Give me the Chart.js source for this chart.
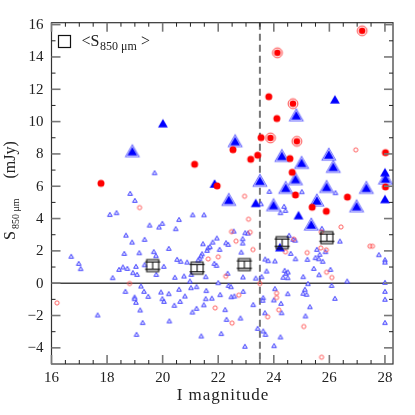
<!DOCTYPE html>
<html>
<head>
<meta charset="utf-8">
<script src="https://cdn.jsdelivr.net/npm/chart.js@4.4.1/dist/chart.umd.min.js"></script>
<style>
  html, body { margin: 0; padding: 0; background: #fff; overflow: hidden; }
  canvas { display: block; }
</style>
</head>
<body>
<canvas id="chart" width="415" height="415"></canvas>
<script>
// values: [I magnitude, S850 (mJy)]
const smallTriangles = [
  [16.71,1.63],[16.98,1.19],[17.05,0.87],[17.66,-2.0],[18.10,4.22],[18.34,4.33],[18.20,0.31],[18.43,0.82],
  [18.57,0.97],[18.62,1.81],[18.66,-0.54],[18.68,2.94],[18.73,0.88],[18.83,5.52],[18.90,2.51],[18.93,0.62],
  [18.99,-0.89],[18.99,-0.99],[19.00,5.09],[19.04,1.01],[19.04,-1.22],[19.06,-3.2],[19.08,0.51],[19.16,1.85],
  [19.19,-1.69],[19.22,-0.21],[19.28,-2.47],[19.33,-0.54],[19.35,2.68],[19.35,1.11],[19.48,-0.85],[19.53,3.56],
  [19.68,1.92],[19.71,6.80],[19.76,1.67],[19.77,0.51],[19.87,3.44],[19.94,-0.58],[19.99,3.67],[19.99,-0.99],
  [20.04,1.01],[20.05,-1.16],[20.22,2.12],[20.22,-0.68],[20.24,-2.37],
  [20.42,-1.40],[20.44,0.33],[20.47,3.34],[20.52,1.44],[20.59,3.91],[20.59,-0.41],[20.63,-1.16],[20.65,1.32],
  [20.77,0.41],[20.80,-0.83],[20.88,1.27],[20.98,0.10],[21.02,-0.31],[21.03,0.51],[21.07,-1.82],[21.08,4.20],
  [21.22,-1.59],[21.22,-0.25],[21.42,1.79],[21.38,1.65],[21.33,1.50],[21.28,1.40],[21.39,-3.30],[21.45,2.41],
  [21.48,-1.37],[21.49,4.20],[21.55,-0.99],[21.55,0.37],[21.57,-0.49],[21.60,2.00],[21.64,2.16],[21.70,2.23],
  [21.77,-0.96],[21.80,2.51],[21.86,1.19],[21.94,1.07],[21.95,2.76],[22.00,0.0],[22.05,2.06],[22.07,-0.74],
  [22.11,-3.15],[22.25,-1.67],[22.28,2.47],[22.30,-2.27],[22.34,0.58],[22.36,2.37],[22.37,-0.17],[22.46,-0.25],
  [22.47,-0.87],[22.56,3.19],[22.58,-0.83],[22.80,-2.19],[22.83,1.89],[22.88,2.72],[22.88,2.45],[22.89,0.35],
  [22.90,-0.54],[22.96,-3.94],[22.97,3.09],[23.07,3.07],[23.26,-1.36],[23.35,0.28],[23.42,-2.83],
  [23.54,4.88],[23.56,0.37],[23.62,-2.99],[23.62,-0.93],[23.60,-1.09],[23.68,-1.86],[23.69,1.46],[23.70,-3.20],
  [23.74,0.72],[23.80,1.36],[23.84,5.65],[24.04,-0.37],[24.00,-1.07],[24.01,-3.90],[24.04,1.34],[24.24,4.33],
  [24.24,-3.36],[24.26,-1.28],[24.28,-1.86],[24.34,0.33],[24.37,4.72],[24.42,4.47],[24.39,0.76],[24.44,0.58],
  [24.50,0.31],[24.50,-0.68],[24.51,0.66],[24.55,2.93],[24.61,1.81],[24.70,2.68],[24.77,2.63],[24.78,1.48],
  [25.01,5.63],[25.06,0.37],[25.06,-0.66],[25.12,-0.41],[25.14,-2.06],[25.18,-0.72],[25.21,1.44],[25.23,-0.06],
  [25.30,-1.49],[25.44,0.88],[25.50,1.55],[25.55,2.06],[25.62,1.48],[25.63,0.49],[25.65,1.75],[25.73,3.36],
  [25.76,1.32],[25.86,1.92],[26.04,0.82],[26.08,-0.17],[26.20,-0.97],[26.22,5.57],[26.38,2.57],[26.64,0.10],
  [27.78,1.73],[28.0,1.42],[28.0,1.27],[28.0,0.02],[28.0,-0.54],[28.0,-1.03],[28.0,-2.47]
];
const smallCircles = [
  [16.20,-1.22],[18.81,-0.02],[19.17,4.68],[21.64,1.50],[22.00,1.63],[22.27,0.43],[22.48,3.19],[22.64,2.60],
  [22.74,-0.74],[21.89,-1.53],[22.50,-2.47],[22.95,5.38],[23.09,3.96],[23.15,3.15],[23.25,2.08],[23.50,-0.02],
  [23.78,-2.08],[24.10,-0.62],[24.10,-0.89],[24.18,-1.65],[24.42,1.94],[24.72,2.72],[25.08,-2.68],[25.20,1.89],
  [25.69,2.18],[25.71,3.17],[25.72,-4.58],[25.89,2.06],[25.90,0.68],[26.09,0.35],[26.42,3.48],[26.95,8.25],
  [27.46,2.29],[27.55,2.29]
];
const filledTriangles = [
  [20.01,9.81],[26.20,11.29],[21.87,6.08],[23.35,4.88],[24.89,4.12],[24.22,2.14],[28.0,6.78],[28.0,5.12]
];
const ringTriangles = [
  [18.91,8.08],[22.61,8.70],[24.81,10.30],[24.29,7.79],[25.98,7.87],[25.00,7.36],[26.14,7.11],[24.78,6.35],
  [23.50,6.25],[28.02,6.39],[24.43,5.81],[25.90,5.87],[27.33,5.81],[22.38,5.07],[25.55,5.03],[23.99,4.74],
  [26.98,4.67],[25.35,3.54]
];
const filledCircles = [
  [17.78,6.18],[21.15,7.36],[21.96,6.02],[22.53,8.26],[23.17,7.67],[23.42,7.92],[23.54,9.01],[23.82,11.54],
  [24.11,10.19],[24.58,7.71],[24.66,6.86],[24.78,5.46],[25.38,4.70],[25.89,4.45],[26.65,5.33],[28.02,8.08],
  [28.02,5.96]
];
const ringCircles = [[27.18,15.62],[24.13,14.26],[24.69,11.11],[23.88,8.99],[24.83,8.78]];
const meanPoints = [[19.64,1.09],[21.24,0.93],[22.94,1.15],[24.30,2.51],[25.91,2.82]];

const xTicks = [16, 18, 20, 22, 24, 26, 28];
const yTicks = [-4, -2, 0, 2, 4, 6, 8, 10, 12, 14, 16];
const cutMagnitude = 23.5;

function makeMarker(size, draw) {
  const c = document.createElement('canvas');
  c.width = size; c.height = size;
  const g = c.getContext('2d');
  g.translate(size / 2, size / 2);
  draw(g);
  return c;
}
function triangle(g, side) {
  const h = side * Math.sqrt(3) / 2;
  g.beginPath();
  g.moveTo(0, -2 * h / 3);
  g.lineTo(side / 2, h / 3);
  g.lineTo(-side / 2, h / 3);
  g.closePath();
}
function circle(g, r) {
  g.beginPath();
  g.arc(0, 0, r, 0, 2 * Math.PI);
}

const smallTriMark = makeMarker(10, g => {
  triangle(g, 4.6); g.fillStyle = 'rgb(225,225,255)'; g.fill();
  g.strokeStyle = 'rgb(50,50,255)'; g.lineWidth = 0.9; g.stroke();
});
const smallCircleMark = makeMarker(8, g => {
  circle(g, 2.1); g.strokeStyle = 'rgb(255,80,80)'; g.lineWidth = 0.9; g.stroke();
});
const bigTriMark = makeMarker(16, g => { triangle(g, 9.8); g.fillStyle = '#0000ff'; g.fill(); });
const ringTriMark = makeMarker(20, g => {
  triangle(g, 15.2); g.fillStyle = 'rgb(80,80,255)'; g.fill();
  triangle(g, 12.6); g.fillStyle = 'rgb(215,215,255)'; g.fill();
  triangle(g, 9.8); g.fillStyle = '#0000ff'; g.fill();
});
const redDotMark = makeMarker(10, g => { circle(g, 3.5); g.fillStyle = 'rgb(255,0,0)'; g.fill(); });
const ringDotMark = makeMarker(14, g => {
  circle(g, 4.9); g.strokeStyle = 'rgb(255,50,50)'; g.lineWidth = 0.9; g.stroke();
  circle(g, 3.3); g.fillStyle = 'rgb(255,0,0)'; g.fill();
});
const meanMark = makeMarker(20, g => {
  g.strokeStyle = '#111'; g.lineWidth = 1.1;
  g.strokeRect(-6, -6, 12, 12);
  g.beginPath();
  g.moveTo(0, -3.6); g.lineTo(0, 3.6);
  g.moveTo(-7.5, -3.6); g.lineTo(7.5, -3.6);
  g.moveTo(-7.5, 3.6); g.lineTo(7.5, 3.6);
  g.stroke();
});

function dataset(label, list, style, order) {
  return {
    label,
    data: list.map(([x, y]) => ({ x, y })),
    pointStyle: style,
    pointRadius: 3,
    pointHoverRadius: 3,
    showLine: false,
    order
  };
}

const serif = "'Liberation Serif', 'DejaVu Serif', serif";

const axesPlugin = {
  id: 'axesPlugin',
  beforeDatasetsDraw(chart) {
    const { ctx, chartArea: a, scales: { x, y } } = chart;
    ctx.save();
    const y0 = y.getPixelForValue(0);
    ctx.strokeStyle = '#444';
    ctx.lineWidth = 1.5;
    ctx.beginPath(); ctx.moveTo(a.left, y0); ctx.lineTo(a.right, y0); ctx.stroke();
    const xc = x.getPixelForValue(cutMagnitude);
    ctx.strokeStyle = '#777';
    ctx.lineWidth = 2;
    ctx.setLineDash([7, 4]);
    ctx.beginPath(); ctx.moveTo(xc, a.top); ctx.lineTo(xc, a.bottom); ctx.stroke();
    ctx.restore();
  },
  afterDatasetsDraw(chart) {
    const { ctx, chartArea: a, scales: { x, y } } = chart;
    ctx.save();
    // frame
    ctx.strokeStyle = '#333';
    ctx.lineWidth = 1.2;
    ctx.strokeRect(a.left, a.top, a.right - a.left, a.bottom - a.top);

    // ticks on all four sides, pointing inward
    const tick = (x1, y1, x2, y2) => { ctx.beginPath(); ctx.moveTo(x1, y1); ctx.lineTo(x2, y2); ctx.stroke(); };
    for (let v = 16; v <= 28.001; v += 0.5) {
      const px = x.getPixelForValue(v);
      const major = Math.abs(v % 2) < 1e-6;
      const len = major ? 9 : 4;
      ctx.strokeStyle = major ? '#777' : '#222';
      ctx.lineWidth = major ? 1.6 : 1;
      tick(px, a.bottom, px, a.bottom - len);
      tick(px, a.top, px, a.top + len);
    }
    for (let v = -4; v <= 16; v += 1) {
      const py = y.getPixelForValue(v);
      const major = Math.abs(v % 2) < 1e-6;
      const len = major ? 9 : 4;
      ctx.strokeStyle = major ? '#777' : '#222';
      ctx.lineWidth = major ? 1.6 : 1;
      tick(a.left, py, a.left + len, py);
      tick(a.right, py, a.right - len, py);
    }

    // tick labels
    ctx.fillStyle = '#222';
    ctx.font = '15px ' + serif;
    ctx.textAlign = 'center';
    ctx.textBaseline = 'alphabetic';
    xTicks.forEach(v => ctx.fillText(String(v), x.getPixelForValue(v), 382));
    ctx.textAlign = 'right';
    ctx.textBaseline = 'middle';
    yTicks.forEach(v => ctx.fillText(v < 0 ? '\u2212' + Math.abs(v) : String(v), 43.5, y.getPixelForValue(v) + 0.5));

    // x title
    ctx.textAlign = 'center';
    ctx.textBaseline = 'alphabetic';
    ctx.font = '17px ' + serif;
    ctx.letterSpacing = '1px';
    ctx.fillText('I magnitude', 223, 400);
    ctx.letterSpacing = '0px';

    // y title, rotated
    ctx.save();
    ctx.translate(15, 0);
    ctx.rotate(-Math.PI / 2);
    ctx.textAlign = 'left';
    ctx.font = '16px ' + serif;
    ctx.fillText('S', -240, 0);
    ctx.font = '10px ' + serif;
    ctx.fillText('850 \u03bcm', -229, 3.5);
    ctx.font = '16px ' + serif;
    ctx.fillText('(mJy)', -178.5, 0);
    ctx.restore();

    // legend
    ctx.strokeStyle = '#111';
    ctx.lineWidth = 1.2;
    ctx.strokeRect(58.5, 35.5, 12, 12);
    ctx.textAlign = 'left';
    ctx.font = '16px ' + serif;
    ctx.fillText('<', 81.5, 46);
    ctx.fillText('S', 90.5, 46);
    ctx.font = '12px ' + serif;
    ctx.fillText('850 \u03bcm', 100, 49.5);
    ctx.font = '16px ' + serif;
    ctx.fillText('>', 141, 46);
    ctx.restore();
  }
};

new Chart(document.getElementById('chart'), {
  type: 'scatter',
  data: {
    datasets: [
      dataset('Mean S850', meanPoints, meanMark, 0),
      dataset('Detections, ring', ringCircles, ringDotMark, 1),
      dataset('Detections', filledCircles, redDotMark, 1),
      dataset('Detections (triangle)', filledTriangles, bigTriMark, 2),
      dataset('Detections (triangle, ring)', ringTriangles, ringTriMark, 3),
      dataset('Sources (circle)', smallCircles, smallCircleMark, 4),
      dataset('Sources (triangle)', smallTriangles, smallTriMark, 5)
    ]
  },
  options: {
    responsive: false,
    animation: false,
    events: [],
    layout: { padding: { left: 51.5, right: 22, top: 22.7, bottom: 51 } },
    plugins: { legend: { display: false }, tooltip: { enabled: false } },
    scales: {
      x: { type: 'linear', min: 16, max: 28.29, display: false },
      y: { type: 'linear', min: -5, max: 16.12, display: false }
    }
  },
  plugins: [axesPlugin]
});
</script>
</body>
</html>
